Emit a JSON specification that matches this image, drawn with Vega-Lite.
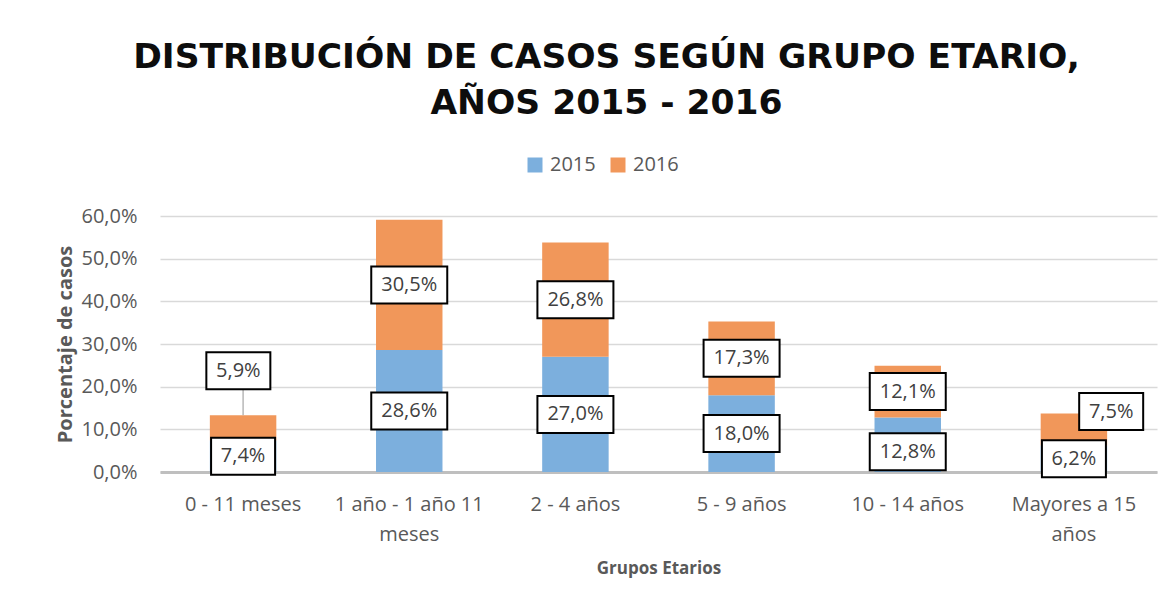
{
  "$schema": "https://vega.github.io/schema/vega-lite/v6.json",
  "width": 997,
  "height": 256,
  "autosize": {"type": "none"},
  "padding": {"left": 160, "top": 216, "right": 16, "bottom": 136},
  "background": "white",
  "title": {
    "text": ["DISTRIBUCIÓN DE CASOS SEGÚN GRUPO ETARIO,", "AÑOS 2015 - 2016"],
    "font": "DejaVu Sans",
    "fontSize": 34.5,
    "fontWeight": "bold",
    "color": "#0d0d0d",
    "lineHeight": 46,
    "anchor": "middle",
    "frame": "group",
    "offset": 34,
    "dx": -52
  },
  "data": {
    "values": [
      {"grupo": "0 - 11 meses", "year": "2015", "value": 7.4},
      {"grupo": "0 - 11 meses", "year": "2016", "value": 5.9},
      {"grupo": "1 año - 1 año 11 meses", "year": "2015", "value": 28.6},
      {"grupo": "1 año - 1 año 11 meses", "year": "2016", "value": 30.5},
      {"grupo": "2 - 4 años", "year": "2015", "value": 27.0},
      {"grupo": "2 - 4 años", "year": "2016", "value": 26.8},
      {"grupo": "5 - 9 años", "year": "2015", "value": 18.0},
      {"grupo": "5 - 9 años", "year": "2016", "value": 17.3},
      {"grupo": "10 - 14 años", "year": "2015", "value": 12.8},
      {"grupo": "10 - 14 años", "year": "2016", "value": 12.1},
      {"grupo": "Mayores a 15 años", "year": "2015", "value": 6.2},
      {"grupo": "Mayores a 15 años", "year": "2016", "value": 7.5}
    ]
  },
  "encoding": {
    "x": {
      "field": "grupo",
      "type": "nominal",
      "sort": ["0 - 11 meses", "1 año - 1 año 11 meses", "2 - 4 años", "5 - 9 años", "10 - 14 años", "Mayores a 15 años"],
      "scale": {"paddingInner": 0.6, "paddingOuter": 0.3},
      "title": "Grupos Etarios",
      "axis": {
        "labelExpr": "datum.label == '1 año - 1 año 11 meses' ? ['1 año - 1 año 11', 'meses'] : datum.label == 'Mayores a 15 años' ? ['Mayores a 15', 'años'] : datum.label"
      }
    }
  },
  "layer": [
    {
      "mark": {"type": "bar"},
      "encoding": {
        "y": {"field": "value", "type": "quantitative", "stack": "zero", "scale": {"domain": [0, 60]}, "title": "Porcentaje de casos"},
        "color": {
          "field": "year",
          "type": "nominal",
          "scale": {"domain": ["2015", "2016"], "range": ["#7cafdd", "#f1975a"]},
          "legend": {
            "orient": "none",
            "legendX": 365,
            "legendY": -61,
            "direction": "horizontal",
            "title": null,
            "symbolType": "square",
            "symbolSize": 225,
            "symbolStrokeWidth": 0,
            "labelFont": "Open Sans",
            "labelFontSize": 20,
            "labelColor": "#595959",
            "labelOffset": 5,
            "columnPadding": 12
          }
        },
        "order": {"field": "year", "sort": "ascending"}
      }
    },
    {
      "transform": [
        {"stack": "value", "groupby": ["grupo"], "sort": [{"field": "year"}], "as": ["v0", "v1"]},
        {"calculate": "(datum.v0 + datum.v1) / 2", "as": "mid"},
        {"calculate": "replace(format(datum.value, '.1f'), '.', ',') + '%'", "as": "lbl"}
      ],
      "layer": [
        {
          "transform": [{"filter": "datum.grupo == '0 - 11 meses' && datum.year == '2016'"}],
          "mark": {"type": "rule", "color": "#a6a6a6", "strokeWidth": 1.2},
          "encoding": {
            "y": {"field": "v1", "type": "quantitative", "title": "Porcentaje de casos"},
            "y2": {"datum": 21}
          }
        },
        {
          "transform": [{"filter": "!(datum.grupo == '0 - 11 meses' && datum.year == '2016') && !(datum.grupo == 'Mayores a 15 años' && datum.year == '2016') && !(datum.grupo == '10 - 14 años' && datum.year == '2015')"}],
          "layer": [
            {
              "mark": {"type": "point", "filled": true, "fill": "white", "stroke": "black", "strokeWidth": 2, "opacity": 1, "size": 400},
              "encoding": {
                "y": {"field": "mid", "type": "quantitative", "title": "Porcentaje de casos"},
                "shape": {"condition": {"test": "datum.value >= 10", "value": "M-3.8,-1.85H3.8V1.85H-3.8Z"}, "value": "M-3.2,-1.85H3.2V1.85H-3.2Z"}
              }
            },
            {
              "mark": {"type": "text", "font": "Open Sans", "fontSize": 20, "color": "#404040"},
              "encoding": {
                "y": {"field": "mid", "type": "quantitative", "title": "Porcentaje de casos"},
                "text": {"field": "lbl"}
              }
            }
          ]
        },
        {
          "transform": [{"filter": "datum.grupo == '0 - 11 meses' && datum.year == '2016'"}],
          "layer": [
            {
              "mark": {"type": "point", "filled": true, "fill": "white", "stroke": "black", "strokeWidth": 2, "opacity": 1, "size": 400, "shape": "M-3.2,-1.85H3.2V1.85H-3.2Z"},
              "encoding": {
                "y": {"field": "mid", "type": "quantitative", "title": "Porcentaje de casos"},
                "xOffset": {"value": 28.5},
                "yOffset": {"value": -57}
              }
            },
            {
              "mark": {"type": "text", "font": "Open Sans", "fontSize": 20, "color": "#404040"},
              "encoding": {
                "y": {"field": "mid", "type": "quantitative", "title": "Porcentaje de casos"},
                "xOffset": {"value": 28.5},
                "yOffset": {"value": -57},
                "text": {"field": "lbl"}
              }
            }
          ]
        },
        {
          "transform": [{"filter": "datum.grupo == 'Mayores a 15 años' && datum.year == '2016'"}],
          "layer": [
            {
              "mark": {"type": "point", "filled": true, "fill": "white", "stroke": "black", "strokeWidth": 2, "opacity": 1, "size": 400, "shape": "M-3.2,-1.85H3.2V1.85H-3.2Z"},
              "encoding": {
                "y": {"field": "mid", "type": "quantitative", "title": "Porcentaje de casos"},
                "xOffset": {"value": 70.5},
                "yOffset": {"value": -18}
              }
            },
            {
              "mark": {"type": "text", "font": "Open Sans", "fontSize": 20, "color": "#404040"},
              "encoding": {
                "y": {"field": "mid", "type": "quantitative", "title": "Porcentaje de casos"},
                "xOffset": {"value": 70.5},
                "yOffset": {"value": -18},
                "text": {"field": "lbl"}
              }
            }
          ]
        },
        {
          "transform": [{"filter": "datum.grupo == '10 - 14 años' && datum.year == '2015'"}],
          "layer": [
            {
              "mark": {"type": "point", "filled": true, "fill": "white", "stroke": "black", "strokeWidth": 2, "opacity": 1, "size": 400, "shape": "M-3.8,-1.85H3.8V1.85H-3.8Z"},
              "encoding": {
                "y": {"field": "mid", "type": "quantitative", "title": "Porcentaje de casos"},
                "yOffset": {"value": 7}
              }
            },
            {
              "mark": {"type": "text", "font": "Open Sans", "fontSize": 20, "color": "#404040"},
              "encoding": {
                "y": {"field": "mid", "type": "quantitative", "title": "Porcentaje de casos"},
                "yOffset": {"value": 7},
                "text": {"field": "lbl"}
              }
            }
          ]
        }
      ]
    }
  ],
  "config": {
    "view": {"stroke": null},
    "font": "Open Sans",
    "axisX": {
      "titleFont": "Open Sans",
      "titleFontSize": 17,
      "titleFontWeight": "bold",
      "titleColor": "#595959",
      "titlePadding": 16,
      "labelFont": "Open Sans",
      "labelFontSize": 20,
      "labelColor": "#595959",
      "labelAngle": 0,
      "labelPadding": 22,
      "labelLineHeight": 30,
      "labelOverlap": false,
      "labelLimit": 300,
      "ticks": false,
      "domainColor": "#bfbfbf",
      "domainWidth": 3
    },
    "axisY": {
      "values": [0, 10, 20, 30, 40, 50, 60],
      "labelExpr": "replace(format(datum.value, '.1f'), '.', ',') + '%'",
      "titleFont": "Open Sans",
      "titleFontSize": 20,
      "titleFontWeight": "bold",
      "titleColor": "#595959",
      "titlePadding": 5,
      "labelFont": "Open Sans",
      "labelFontSize": 20,
      "labelColor": "#595959",
      "labelPadding": 23,
      "domain": false,
      "ticks": false,
      "gridColor": "#d9d9d9",
      "gridWidth": 1.5
    }
  }
}
